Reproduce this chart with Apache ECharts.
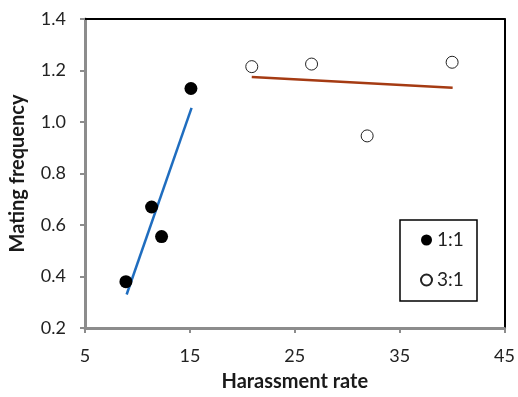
<!DOCTYPE html>
<html>
<head>
<meta charset="utf-8">
<script src="https://cdn.jsdelivr.net/npm/echarts@6/dist/echarts.min.js"></script>
<style>html,body{margin:0;padding:0;background:#fff}#c{width:518px;height:397px}</style>
</head>
<body>
<div id="c"></div>
<script>
// Data
const groupNames = ['1:1', '3:1'];
const ratio11X = [8.9, 11.35, 12.3, 15.1];
const ratio11Y = [0.38, 0.67, 0.555, 1.13];
const ratio31X = [20.9, 26.6, 31.9, 40.0];
const ratio31Y = [1.215, 1.225, 0.946, 1.232];
const trend11X = [8.97, 15.16];
const trend11Y = [0.33, 1.055];
const trend31X = [20.9, 40.05];
const trend31Y = [1.175, 1.133];
const xTicks = [5, 15, 25, 35, 45];
const yTicks = [0.2, 0.4, 0.6, 0.8, 1.0, 1.2, 1.4];

const pairs = (xs, ys) => xs.map((x, i) => [x, ys[i]]);
const FONT = 'Lato';
const chart = echarts.init(document.getElementById('c'), null, {renderer: 'canvas'});
function trendName(i) { return 'trend ' + groupNames[i]; }
chart.setOption({
  animation: false,
  backgroundColor: '#fff',
  grid: {left: 85, right: 13, top: 19, bottom: 68},
  xAxis: [{
    type: 'value', min: xTicks[0], max: xTicks[xTicks.length - 1], interval: 10,
    name: 'Harassment rate', nameLocation: 'middle', nameGap: 44,
    nameTextStyle: {fontFamily: FONT, fontWeight: 'bold', fontSize: 20, color: '#1a1a1a'},
    axisLine: {lineStyle: {color: '#8c8c8c', width: 3}},
    axisTick: {show: true, length: 5, lineStyle: {color: '#8c8c8c', width: 2}},
    axisLabel: {fontFamily: FONT, fontSize: 18, color: '#222', margin: 19},
    splitLine: {show: false}
  }, {
    type: 'value', position: 'top', min: xTicks[0], max: xTicks[xTicks.length - 1],
    axisLine: {show: true, lineStyle: {color: '#000', width: 2}},
    axisTick: {show: false}, axisLabel: {show: false}, splitLine: {show: false}
  }],
  yAxis: [{
    type: 'value', min: yTicks[0], max: yTicks[yTicks.length - 1], interval: 0.2,
    name: 'Mating frequency', nameLocation: 'middle', nameGap: 57,
    nameTextStyle: {fontFamily: FONT, fontWeight: 'bold', fontSize: 20, color: '#1a1a1a'},
    axisLine: {show: true, lineStyle: {color: '#8c8c8c', width: 3}},
    axisTick: {show: true, length: 5, lineStyle: {color: '#8c8c8c', width: 2}},
    axisLabel: {fontFamily: FONT, fontSize: 18, color: '#222', margin: 19,
      formatter: v => v.toFixed(1)},
    splitLine: {show: false}
  }, {
    type: 'value', position: 'right', min: yTicks[0], max: yTicks[yTicks.length - 1],
    axisLine: {show: true, lineStyle: {color: '#000', width: 2}},
    axisTick: {show: false}, axisLabel: {show: false}, splitLine: {show: false}
  }],
  legend: {
    data: groupNames, orient: 'vertical', left: 420, top: 230,
    itemWidth: 11, itemHeight: 11, itemGap: 20, padding: 0,
    textStyle: {fontFamily: FONT, fontSize: 19, color: '#222', lineHeight: 20}
  },
  graphic: [{
    type: 'rect', shape: {x: 400, y: 220, width: 77, height: 81},
    style: {fill: 'none', stroke: '#000', lineWidth: 1.5}, z: 100
  }],
  series: [
    {name: trendName(0), type: 'line', data: pairs(trend11X, trend11Y), showSymbol: false,
     lineStyle: {color: '#1f6dbf', width: 2.5}, z: 2, silent: true},
    {name: trendName(1), type: 'line', data: pairs(trend31X, trend31Y), showSymbol: false,
     lineStyle: {color: '#a53b13', width: 2.5}, z: 2, silent: true},
    {name: groupNames[0], type: 'scatter', data: pairs(ratio11X, ratio11Y),
     symbol: 'circle', symbolSize: 13, itemStyle: {color: '#000', opacity: 1}, z: 3},
    {name: groupNames[1], type: 'scatter', data: pairs(ratio31X, ratio31Y),
     symbol: 'circle', symbolSize: 12, itemStyle: {color: '#fff', borderColor: '#222', borderWidth: 1, opacity: 1}, z: 3}
  ]
});
</script>
</body>
</html>
